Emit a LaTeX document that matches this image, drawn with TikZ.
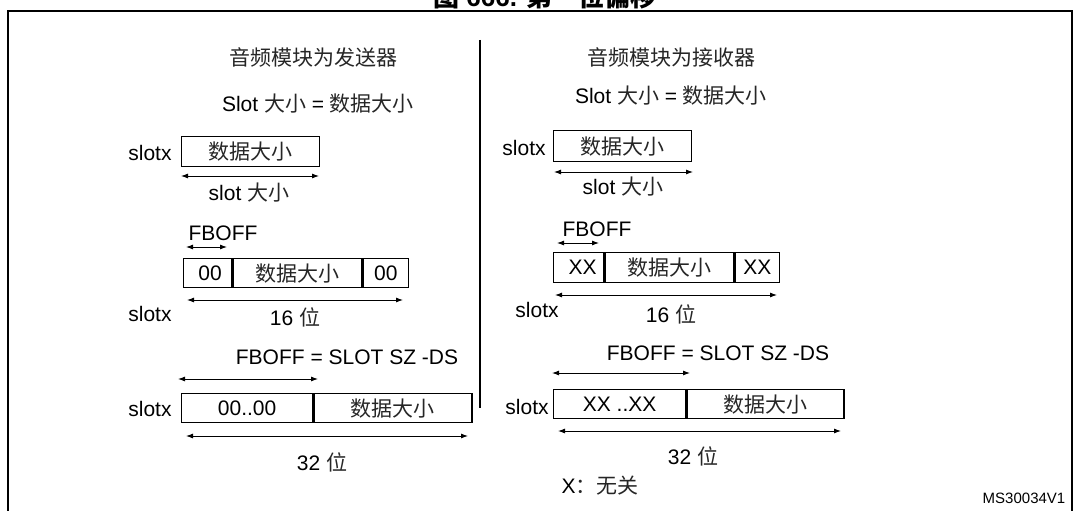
\documentclass[tikz,border=0pt]{standalone}
\usepackage{fontspec}
\setmainfont{Liberation Sans}
\newfontfamily\cjk{Noto Sans CJK SC}
\usetikzlibrary{arrows.meta}
\newcommand\zh[1]{{\cjk\color{black!85}#1}}
\begin{document}
\begin{tikzpicture}[x=1pt,y=-1pt,
  every node/.style={inner sep=0pt, font=\fontsize{21}{25}\selectfont},
  cell/.style={draw, line width=1.3pt, anchor=north west, minimum height=29pt},
  dim/.style={line width=0.9pt, {Latex[length=7pt,width=5pt]}-{Latex[length=7pt,width=5pt]}},
  frame/.style={line width=2.2pt},
  small/.style={font=\fontsize{15}{18}\selectfont}]
\useasboundingbox (0,0) rectangle (1074,511);
\begin{scope}
\clip (0,0) rectangle (1074,511);
% title (cut off at top)
\node[anchor=base, font=\bfseries\fontsize{26}{30}\selectfont] (title) at (545,7) {{\cjk 图} 666. {\cjk 第一位偏移}};
% frame
\coordinate (fbl) at (8,520); \coordinate (ftl) at (8,11);
\coordinate (ftr) at (1072,11); \coordinate (fbr) at (1072,520);
\draw[frame] (fbl) -- (ftl) -- (ftr) -- (fbr);
\end{scope}
% divider
\coordinate (dtop) at (480,40); \coordinate (dbot) at (480,408);
\draw[line width=2.2pt] (dtop) -- (dbot);

% ---------------- left: transmitter ----------------
\node (hdrL) at (313,57) {\zh{音频模块为发送器}};
\node (eqL) at (318,104) {Slot \zh{大小} = \zh{数据大小}};
\node (sxL1) at (150,153) {slotx};
\node[cell, minimum width=138pt, minimum height=30pt] (L1) at (181,136) {\zh{数据大小}};
\coordinate (a1s) at (181,176); \coordinate (a1e) at (319,176);
\draw[dim] (a1s) -- (a1e);
\node (szL) at (249,193) {slot \zh{大小}};

\node (fbL) at (223,233) {FBOFF};
\coordinate (a2s) at (186,247); \coordinate (a2e) at (227,247);
\draw[dim] (a2s) -- (a2e);
\node[cell, minimum width=48pt] (L2a) at (183,258) {\hspace{5pt}00};
\node[cell, minimum width=129pt] (L2b) at (L2a.north east) {\zh{数据大小}};
\node[cell, minimum width=45pt] (L2c) at (L2b.north east) {00};
\coordinate (a3s) at (187,300); \coordinate (a3e) at (403,300);
\draw[dim] (a3s) -- (a3e);
\node (sxL2) at (150,314) {slotx};
\node (bL2) at (295,317) {16 \zh{位}};

\node (eq2L) at (347,357) {FBOFF = SLOT SZ -DS};
\coordinate (a4s) at (178,379); \coordinate (a4e) at (318,379);
\draw[dim] (a4s) -- (a4e);
\node (sxL3) at (150,409) {slotx};
\node[cell, minimum width=131pt] (L3a) at (181,393) {00..00};
\node[cell, minimum width=158pt] (L3b) at (L3a.north east) {\zh{数据大小}};
\coordinate (a5s) at (186,436); \coordinate (a5e) at (468,436);
\draw[dim] (a5s) -- (a5e);
\node (bL3) at (322,462) {32 \zh{位}};

% ---------------- right: receiver ----------------
\node (hdrR) at (671,57) {\zh{音频模块为接收器}};
\node (eqR) at (671,96) {Slot \zh{大小} = \zh{数据大小}};
\node (sxR1) at (524,148) {slotx};
\node[cell, minimum width=138pt, minimum height=31pt] (R1) at (553,130) {\zh{数据大小}};
\coordinate (b1s) at (554,172); \coordinate (b1e) at (693,172);
\draw[dim] (b1s) -- (b1e);
\node (szR) at (623,187) {slot \zh{大小}};

\node (fbR) at (597,229) {FBOFF};
\coordinate (b2s) at (557,243); \coordinate (b2e) at (599,243);
\draw[dim] (b2s) -- (b2e);
\node[cell, minimum width=50pt, minimum height=30pt] (R2a) at (553,252) {\hspace{8pt}XX};
\node[cell, minimum width=129pt, minimum height=30pt] (R2b) at (R2a.north east) {\zh{数据大小}};
\node[cell, minimum width=44pt, minimum height=30pt] (R2c) at (R2b.north east) {XX};
\coordinate (b3s) at (555,295); \coordinate (b3e) at (777,295);
\draw[dim] (b3s) -- (b3e);
\node (sxR2) at (537,310) {slotx};
\node (bR2) at (671,314) {16 \zh{位}};

\node (eq2R) at (718,353) {FBOFF = SLOT SZ -DS};
\coordinate (b4s) at (552,373); \coordinate (b4e) at (690,373);
\draw[dim] (b4s) -- (b4e);
\node (sxR3) at (527,407) {slotx};
\node[cell, minimum width=132pt] (R3a) at (553,389) {XX ..XX};
\node[cell, minimum width=157pt] (R3b) at (R3a.north east) {\zh{数据大小}};
\coordinate (b5s) at (558,431); \coordinate (b5e) at (841,431);
\draw[dim] (b5s) -- (b5e);
\node (bR3) at (693,456) {32 \zh{位}};
\node (dc) at (600,486) {X\zh{：无关}};

\node[small] (id) at (1024,498) {MS30034V1};
\end{tikzpicture}
\end{document}
